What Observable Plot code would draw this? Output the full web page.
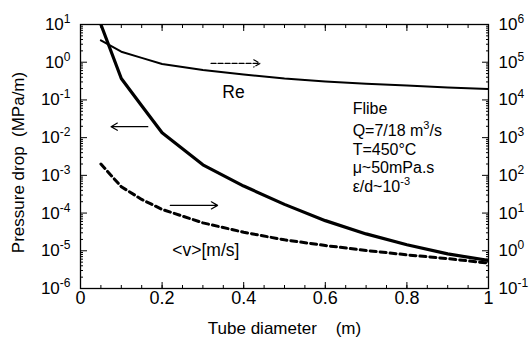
<!DOCTYPE html>
<html>
<head>
<meta charset="utf-8">
<script src="https://cdn.jsdelivr.net/npm/d3@7"></script>
<script src="https://cdn.jsdelivr.net/npm/@observablehq/plot@0.6"></script>
<style>
  html, body { margin: 0; padding: 0; background: #fff; }
  #chart { width: 530px; height: 340px; }
</style>
</head>
<body>
<div id="chart"></div>
<script>
// ---- data ----
const diameter = [0.05, 0.1, 0.15, 0.2, 0.3, 0.4, 0.5, 0.6, 0.7, 0.8, 0.9, 1.0];          // m
const pressureDrop = [10, 0.37, 0.07, 0.0135, 0.0019, 5.2e-4, 1.7e-4, 6.3e-5, 2.8e-5, 1.45e-5, 8.3e-6, 5.5e-6]; // MPa/m (left axis)
const reynolds = [3.8e5, 1.9e5, 1.3e5, 9e4, 6.2e4, 4.7e4, 3.7e4, 3.1e4, 2.7e4, 2.4e4, 2.15e4, 1.95e4];       // right axis
const velocity = [200, 50, 23, 12.5, 5.5, 3.1, 1.95, 1.38, 1.02, 0.78, 0.62, 0.47];                          // m/s (right axis)

const leftTicks = [1e-6, 1e-5, 1e-4, 1e-3, 1e-2, 1e-1, 1e0, 1e1];
const rightOffset = 5; // right axis decade = left decade + 5
const xMajorTicks = [0, 0.2, 0.4, 0.6, 0.8, 1];
const xTickLabels = ["0", "0.2", "0.4", "0.6", "0.8", "1"];

const infoLines = ["Flibe", "Q=7/18 m^{3}/s", "T=450°C", "μ~50mPa.s", "ε/d~10^{-3}"];
const infoY = [0.059, 0.0152, 0.0047, 0.00155, 5.0e-4];
const infoX = 0.667;

const reLabel = {x: 0.375, y: 0.16, text: "Re"};
const vLabel = {x: 0.225, y: 1.0e-5, text: "<v>[m/s]"};

const arrowsSolid = [
  {x1: 0.165, y1: 0.0195, x2: 0.075, y2: 0.0195},
  {x1: 0.22, y1: 1.6e-4, x2: 0.336, y2: 1.6e-4}
];
const arrowsDashed = [
  {x1: 0.32, y1: 0.93, x2: 0.44, y2: 0.93}
];

// ---- derived tables ----
const scaleRight = Math.pow(10, -rightOffset);
const rows = diameter.map((d, i) => ({
  d, dp: pressureDrop[i], re: reynolds[i] * scaleRight, v: velocity[i] * scaleRight
}));
const minorY = [];
for (let k = -6; k < 1; k++) for (let m = 2; m <= 9; m++) minorY.push(m * Math.pow(10, k));
const minorX = d3.range(0, 1.0001, 0.05).map(v => +v.toFixed(2));

const font = "'Liberation Sans', Arial, Helvetica, sans-serif";
const expFmt = off => d => "10^{" + (Math.round(Math.log10(d)) + off) + "}";
const FS = 17;

const chart = Plot.plot({
  width: 530,
  height: 340,
  marginLeft: 80,
  marginRight: 42,
  marginTop: 24,
  marginBottom: 52,
  x: {domain: [0, 1]},
  y: {type: "log", domain: [1e-6, 10]},
  style: {fontFamily: font, fontSize: FS + "px", color: "black", background: "white", overflow: "visible"},
  marks: [
    // inward ticks
    Plot.axisX({anchor: "bottom", ticks: minorX, tickSize: -3, fill: "none", label: null}),
    Plot.axisX({anchor: "bottom", ticks: xMajorTicks, tickSize: -6, fill: "none", label: null}),
    Plot.axisX({anchor: "top", ticks: minorX, tickSize: -3, fill: "none", label: null}),
    Plot.axisX({anchor: "top", ticks: xMajorTicks, tickSize: -6, fill: "none", label: null}),
    Plot.axisY({anchor: "left", ticks: minorY, tickSize: -3, fill: "none", label: null}),
    Plot.axisY({anchor: "left", ticks: leftTicks, tickSize: -7, fill: "none", label: null}),
    Plot.axisY({anchor: "right", ticks: minorY, tickSize: -3, fill: "none", label: null}),
    Plot.axisY({anchor: "right", ticks: leftTicks, tickSize: -7, fill: "none", label: null}),
    // tick labels
    Plot.axisX({anchor: "bottom", ticks: xMajorTicks, tickSize: 0, tickPadding: 3, fontSize: 18,
      tickFormat: d => xTickLabels[xMajorTicks.indexOf(d)], label: null}),
    Plot.axisY({anchor: "left", ticks: leftTicks, tickSize: 0, tickPadding: 10, fontSize: FS,
      tickFormat: expFmt(0), label: null}),
    Plot.axisY({anchor: "right", ticks: leftTicks, tickSize: 0, tickPadding: 10, fontSize: FS,
      tickFormat: expFmt(rightOffset), label: null}),
    Plot.frame({stroke: "black", strokeWidth: 1.3}),
    // curves
    Plot.line(rows, {x: "d", y: "re", stroke: "black", strokeWidth: 2, clip: true}),
    Plot.line(rows, {x: "d", y: "v", stroke: "black", strokeWidth: 3, strokeDasharray: "6,4", clip: true}),
    Plot.line(rows, {x: "d", y: "dp", stroke: "black", strokeWidth: 3.2, clip: true}),
    // arrows
    Plot.arrow(arrowsSolid, {x1: "x1", y1: "y1", x2: "x2", y2: "y2", stroke: "black", strokeWidth: 1.2, headLength: 9}),
    Plot.arrow(arrowsDashed, {x1: "x1", y1: "y1", x2: "x2", y2: "y2", stroke: "black", strokeWidth: 1.2, headLength: 9, strokeDasharray: "5,2"}),
    // annotations
    Plot.text([reLabel], {x: "x", y: "y", text: "text", fontSize: 17.5, textAnchor: "middle"}),
    Plot.text([vLabel], {x: "x", y: "y", text: "text", fontSize: 17.5, textAnchor: "start"}),
    Plot.text(infoLines, {x: () => infoX, y: (d, i) => infoY[i], text: d => d, fontSize: 16, textAnchor: "start"}),
    // axis titles
    Plot.text(["Tube diameter\u00a0\u00a0\u00a0\u00a0(m)"], {frameAnchor: "bottom", dy: 45, fontSize: 17, textAnchor: "middle"}),
    Plot.text(["Pressure drop\u00a0\u00a0(MPa/m)"], {frameAnchor: "left", rotate: -90, dx: -62, dy: 6, fontSize: 17, textAnchor: "middle"})
  ]
});

// superscripts: replace "^{...}" with raised tspans
const NS = "http://www.w3.org/2000/svg";
for (const t of chart.querySelectorAll("text")) {
  const s = t.textContent;
  if (!s.includes("^{")) continue;
  const fsAttr = t.getAttribute("font-size") || (t.parentNode && t.parentNode.getAttribute && t.parentNode.getAttribute("font-size"));
  const fs = parseFloat(fsAttr) || FS;
  const raise = Math.round(fs * 0.42);
  while (t.firstChild) t.removeChild(t.firstChild);
  const re = /\^\{([^}]*)\}/g;
  let last = 0, m, shifted = false;
  const add = (str, sup) => {
    const ts = document.createElementNS(NS, "tspan");
    ts.textContent = str;
    if (sup) { ts.setAttribute("dy", -raise); ts.setAttribute("font-size", Math.round(fs * 0.68)); shifted = true; }
    else if (shifted) { ts.setAttribute("dy", raise); shifted = false; }
    t.appendChild(ts);
  };
  while ((m = re.exec(s))) {
    if (m.index > last) add(s.slice(last, m.index), false);
    add(m[1], true);
    last = re.lastIndex;
  }
  if (last < s.length) add(s.slice(last), false);
}

document.getElementById("chart").appendChild(chart);
</script>
</body>
</html>
